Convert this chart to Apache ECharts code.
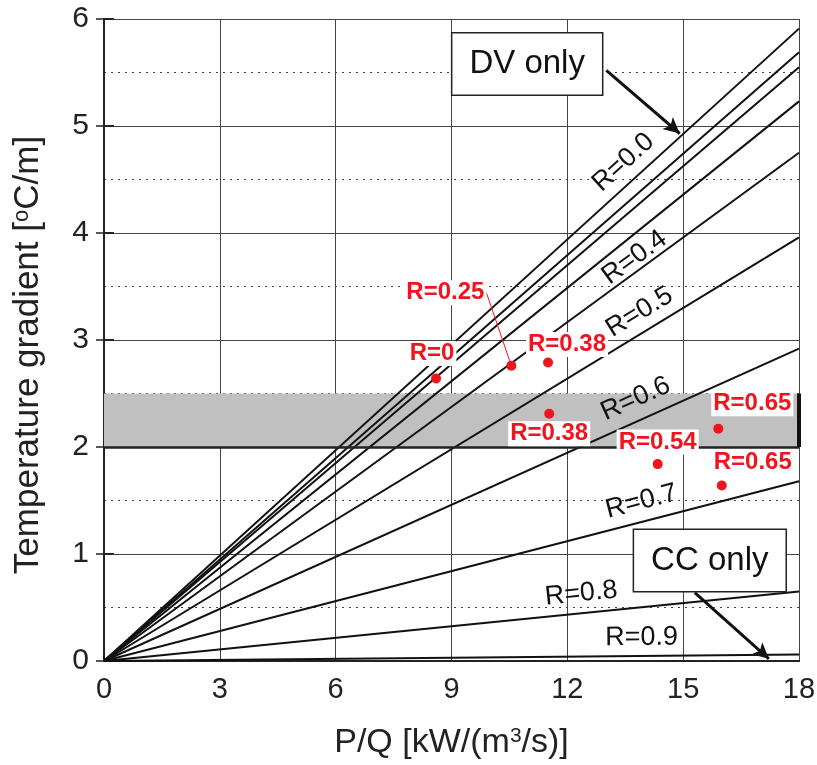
<!DOCTYPE html>
<html><head><meta charset="utf-8">
<script src="https://cdn.jsdelivr.net/npm/echarts@6/dist/echarts.min.js"></script>
<style>html,body{margin:0;padding:0;background:#fff}#c{width:817px;height:765px}</style>
</head><body><div id="c"></div>
<script>
// ---- data ----
const xTicks = [0, 3, 6, 9, 12, 15, 18];
const yTicks = [0, 1, 2, 3, 4, 5, 6];
const rValues = ['0.0', '0.1', '0.2', '0.3', '0.4', '0.5', '0.6', '0.7', '0.8', '0.9'];
const lineEndX = 18;
const lineEndY = [5.91, 5.69, 5.55, 5.23, 4.75, 3.96, 2.92, 1.68, 0.65, 0.06];
const lineLabelText = ['R=0.0', 'R=0.4', 'R=0.5', 'R=0.6', 'R=0.7', 'R=0.8', 'R=0.9'];
const lineLabelOf = [0, 4, 5, 6, 7, 8, 9];
const lineLabelX = [13.45, 13.74, 13.87, 13.77, 13.92, 12.36, 13.92];
const lineLabelY = [4.66, 3.77, 3.26, 2.45, 1.49, 0.63, 0.22];
const pointText = ['R=0', 'R=0.25', 'R=0.38', 'R=0.38', 'R=0.54', 'R=0.65', 'R=0.65'];
const pointX = [8.60, 10.55, 11.50, 11.53, 14.34, 15.91, 16.00];
const pointY = [2.64, 2.76, 2.79, 2.31, 1.84, 2.17, 1.64];
const bandLow = 2.0, bandHigh = 2.5;
const noteText = ['DV only', 'CC only'];
const noteX = [10.96, 15.69];
const noteY = [5.58, 0.94];
const arrowFromX = [13.01, 15.30], arrowFromY = [5.52, 0.64];
const arrowToX = [14.91, 17.22], arrowToY = [4.93, 0.02];

// ---- styles ----
const FONT = 'Liberation Sans, Arial, sans-serif';
const RED = '#f0141e';
const pointLabelOffset = [[-4, -25], [-66, -73], [19, -18], [0, 20], [0, -22], [34, -25], [31, -23]];

const chart = echarts.init(document.getElementById('c'), null, {renderer: 'canvas'});

function lineAngles() {
  return lineLabelOf.map(i => {
    const p0 = chart.convertToPixel({gridIndex: 0}, [0, 0]);
    const p1 = chart.convertToPixel({gridIndex: 0}, [lineEndX, lineEndY[i]]);
    return Math.atan2(p0[1] - p1[1], p1[0] - p0[0]) * 180 / Math.PI;
  });
}

function build(angles) {
  const series = [];
  series.push({
    type: 'line', data: [], z: 1, silent: true,
    markArea: {silent: true, itemStyle: {color: '#c0c0c0', opacity: 1}, data: [[{yAxis: bandLow}, {yAxis: bandHigh}]]},
    markLine: {silent: true, symbol: 'none', label: {show: false},
      data: [
        [{coord: [0, bandLow], lineStyle: {width: 2.5, color: '#222', type: 'solid'}}, {coord: [xTicks[xTicks.length - 1], bandLow]}],
        [{coord: [xTicks[xTicks.length - 1], bandLow], lineStyle: {width: 4, color: '#111', type: 'solid'}}, {coord: [xTicks[xTicks.length - 1], bandHigh]}]
      ]}
  });
  lineEndY.forEach((v, i) => {
    series.push({
      type: 'line', name: 'R=' + rValues[i], data: [[0, 0], [lineEndX, v]],
      showSymbol: false, symbol: 'none', z: 3, silent: true,
      lineStyle: {color: '#111', width: 2}
    });
  });
  series.push({
    type: 'scatter', z: 4, symbolSize: 0, silent: true,
    itemStyle: {opacity: 1},
    data: lineLabelText.map((t, k) => ({
      value: [lineLabelX[k], lineLabelY[k]], name: t,
      label: {rotate: angles ? angles[k] : 0}
    })),
    label: {show: true, position: 'inside', formatter: '{b}', color: '#111', opacity: 1, fontSize: 27, fontFamily: FONT}
  });
  series.push({
    type: 'scatter', z: 6, symbolSize: 10, silent: true,
    itemStyle: {color: RED, opacity: 1},
    data: pointText.map((t, k) => ({
      value: [pointX[k], pointY[k]], name: t,
      labelLine: {show: k === 1, lineStyle: {color: RED, width: 1}}
    })),
    label: {show: true, position: 'inside', formatter: '{b}', color: RED, opacity: 1, fontSize: 24,
      fontFamily: FONT, fontWeight: 'bold',
      backgroundColor: '#fff', padding: [1, 2, 0, 2]},
    labelLayout: p => ({dx: pointLabelOffset[p.dataIndex][0], dy: pointLabelOffset[p.dataIndex][1]}),
    labelLine: {show: false, lineStyle: {color: RED, width: 1}}
  });
  series.push({
    type: 'scatter', z: 7, symbolSize: 0, silent: true,
    itemStyle: {opacity: 1},
    data: noteText.map((t, k) => ({value: [noteX[k], noteY[k]], name: t})),
    label: {show: true, position: 'inside', formatter: '{b}', color: '#111', opacity: 1, fontSize: 33, fontFamily: FONT,
      backgroundColor: '#fff', borderColor: '#222', borderWidth: 1.5, padding: [15, 17, 13, 17]},
    markLine: {silent: true, symbol: ['none', 'arrow'], symbolSize: [12, 16], label: {show: false},
      lineStyle: {color: '#111', width: 3, type: 'solid', opacity: 1},
      data: arrowFromX.map((x, k) => [{coord: [x, arrowFromY[k]]}, {coord: [arrowToX[k], arrowToY[k]]}])}
  });
  return series;
}

const axisCommon = {
  axisLine: {show: true, lineStyle: {color: '#222', width: 2}},
};

const option = {
  backgroundColor: '#fff',
  animation: false,
  grid: {left: 104, right: 18, top: 19, bottom: 104, containLabel: false, outerBoundsMode: 'none'},
  xAxis: [{
    type: 'value', min: xTicks[0], max: xTicks[xTicks.length - 1], interval: 3, position: 'bottom',
    ...axisCommon,
    axisTick: {show: false},
    axisLabel: {color: '#222', fontSize: 29, fontFamily: FONT, margin: 14},
    splitLine: {show: true, lineStyle: {color: '#444', width: 1}},
    name: 'P/Q [kW/(m{sup|3}/s)]', nameLocation: 'middle', nameGap: 65,
    nameTextStyle: {color: '#222', fontSize: 34, fontFamily: FONT,
      rich: {sup: {fontSize: 21, fontFamily: FONT, color: '#222', verticalAlign: 'top', padding: [0, 0, 12, 0]}}}
  }, {
    type: 'value', min: xTicks[0], max: xTicks[xTicks.length - 1], interval: 3, position: 'top',
    ...axisCommon, axisTick: {show: false}, axisLabel: {show: false}, splitLine: {show: false}
  }],
  yAxis: [{
    type: 'value', min: yTicks[0], max: yTicks[yTicks.length - 1], interval: 1, position: 'left',
    ...axisCommon,
    axisTick: {show: true, inside: true, length: 10, lineStyle: {color: '#222', width: 2}},
    axisLabel: {color: '#222', fontSize: 30, fontFamily: FONT, margin: 15},
    splitLine: {show: true, lineStyle: {color: '#444', width: 1}},
    minorTick: {show: false, splitNumber: 2},
    minorSplitLine: {show: true, lineStyle: {color: '#444', width: 1.2, type: [2, 5]}},
    name: 'Temperature gradient [{sup|o}C/m]', nameLocation: 'middle', nameGap: 58,
    nameTextStyle: {color: '#222', fontSize: 35, fontFamily: FONT, padding: [0, 30, 0, 0],
      rich: {sup: {fontSize: 22, fontFamily: FONT, color: '#222', verticalAlign: 'top', padding: [0, 0, 12, 0]}}}
  }, {
    type: 'value', min: yTicks[0], max: yTicks[yTicks.length - 1], interval: 1, position: 'right',
    ...axisCommon,
    axisTick: {show: true, inside: true, length: 8, lineStyle: {color: '#222', width: 1.5}},
    axisLabel: {show: false}, splitLine: {show: false}
  }],
  series: build(null)
};
chart.setOption(option);
chart.setOption({series: build(lineAngles())});
</script>
</body></html>
